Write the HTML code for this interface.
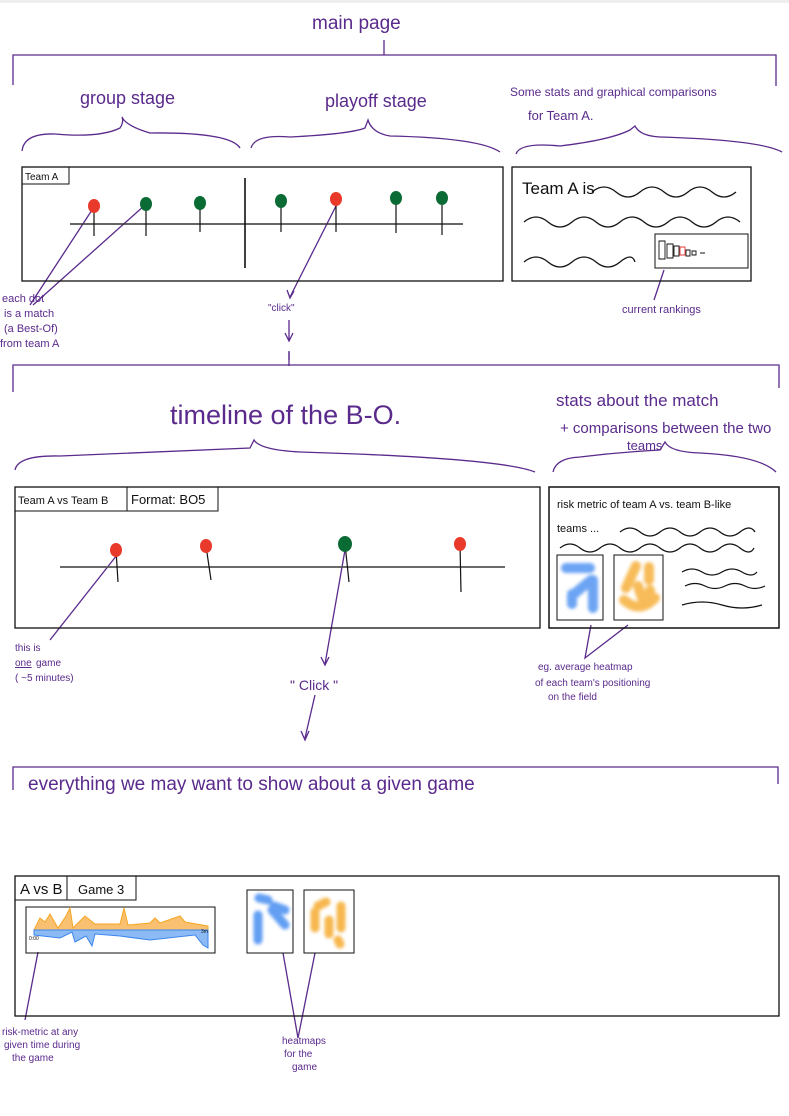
<!DOCTYPE html>
<html><head><meta charset="utf-8"><style>
html,body{margin:0;padding:0;background:#fff;}
svg{display:block;}
.p{fill:#5a2a8c;font-family:"Liberation Sans",sans-serif;}
.k{fill:#111;font-family:"Liberation Sans",sans-serif;}
</style></head><body>
<svg width="789" height="1116" viewBox="0 0 789 1116" xmlns="http://www.w3.org/2000/svg">
<defs>
<filter id="bl" x="-20%" y="-20%" width="140%" height="140%"><feGaussianBlur stdDeviation="1.5"/></filter>
</defs>
<rect width="789" height="1116" fill="#fff"/>
<rect width="789" height="3" fill="#eee"/>
<g stroke="#5a2a8c" stroke-width="1.3" fill="none">
<path d="M384 40 V55 M13 85 V55 H776 V86"/>
<path d="M22 151 Q24 133 55 134 Q100 138 120 128 Q124 122 122 117 Q126 126 150 133 Q230 132 240 148"/>
<path d="M251 148 Q255 134 290 137 Q350 134 365 128 L368 120 Q372 133 390 136 Q480 138 500 152"/>
<path d="M516 154 Q520 142 560 146 Q610 140 630 130 L635 126 Q640 136 660 137 Q760 140 782 152"/>
<path d="M30 305 L92 210 M33 305 L145 205"/>
<path d="M337 204 L290 297 M287 290 L290 298 L294 291"/>
<path d="M289 320 V340 M285 333 L289 341 L293 333 M289 351 V360"/>
<path d="M664 270 L654 300"/>
<path d="M13 392 V365 H779 V388 M289 352 V366"/>
<path d="M15 470 Q18 455 60 456 Q200 450 250 448 L254 440 Q260 450 300 452 Q500 458 535 472"/>
<path d="M553 472 Q556 458 580 457 Q620 452 660 450 L665 442 Q670 452 700 453 Q760 456 776 472"/>
<path d="M117 555 L50 640"/>
<path d="M345 550 L325 664 M321 657 L325 665 L329 657"/>
<path d="M315 695 L305 738 M301 731 L305 740 L309 731"/>
<path d="M591 625 L585 658 L628 625"/>
<path d="M13 790 V767 H778 V784"/>
<path d="M38 952 L25 1020"/>
<path d="M283 953 L298 1038 L315 953"/>
</g>
<text class="p" x="312" y="29" font-size="19">main page</text>
<text class="p" x="80" y="104" font-size="18">group stage</text>
<text class="p" x="325" y="107" font-size="18">playoff stage</text>
<text class="p" x="510" y="96" font-size="12">Some stats and graphical comparisons</text>
<text class="p" x="528" y="120" font-size="13">for Team A.</text>

<g stroke="#111" fill="none">
<rect x="22" y="167" width="481" height="114" stroke-width="1.3"/>
<path d="M22 184 H69 V167" stroke-width="1"/>
<path d="M70 224 H463" stroke="#333" stroke-width="1.6"/>
<path d="M245 178 V268" stroke-width="1.6"/>
<path d="M94 206 V236 M146 204 V236 M200 203 V232 M281 201 V232 M336 199 V232 M396 198 V233 M442 198 V235" stroke-width="1.2"/>
<rect x="512" y="167" width="239" height="114" stroke-width="1.3"/>
<rect x="655" y="234" width="93" height="34" stroke-width="1"/>
<path d="M592 192 q12 -10 24 0 t24 0 t24 0 t24 0 t24 0 t24 0" stroke-width="1.3"/>
<path d="M524 222 q12 -10 24 0 t24 0 t24 0 t24 0 t24 0 t24 0 t24 0 t24 0 t24 0" stroke-width="1.3"/>
<path d="M524 262 q12 -10 24 0 t24 0 t24 0 t24 0 t15 0" stroke-width="1.3"/>
<path d="M659 241 h6 v18 h-6z M667 244 h6 v14 h-6z M674 246 h5 v10 h-5z M686 250 h4 v6 h-4z M692 251 h4 v4 h-4z M700 253 h5" stroke-width="0.9"/>
<path d="M680 247 h5 v8 h-5z" stroke="#e33" stroke-width="0.9"/>
</g>
<text class="k" x="25" y="180" font-size="10">Team A</text>
<text class="k" x="522" y="194" font-size="17">Team A is</text>
<g>
<ellipse cx="94" cy="206" rx="6" ry="7" fill="#e8392a"/>
<ellipse cx="146" cy="204" rx="6" ry="7" fill="#0b6b35"/>
<ellipse cx="200" cy="203" rx="6" ry="7" fill="#0b6b35"/>
<ellipse cx="281" cy="201" rx="6" ry="7" fill="#0b6b35"/>
<ellipse cx="336" cy="199" rx="6" ry="7" fill="#e8392a"/>
<ellipse cx="396" cy="198" rx="6" ry="7" fill="#0b6b35"/>
<ellipse cx="442" cy="198" rx="6" ry="7" fill="#0b6b35"/>
</g>
<g class="p" font-size="11">
<text x="2" y="302">each dot</text>
<text x="4" y="317">is a match</text>
<text x="4" y="332">(a Best-Of)</text>
<text x="0" y="347">from team A</text>
<text x="268" y="311" font-size="10">"click"</text>
<text x="622" y="313">current rankings</text>
</g>
<text class="p" x="170" y="424" font-size="27">timeline of the B-O.</text>
<text class="p" x="556" y="406" font-size="17">stats about the match</text>
<text class="p" x="560" y="433" font-size="15">+ comparisons between the two</text>
<text class="p" x="627" y="450" font-size="13">teams</text>

<g stroke="#111" fill="none">
<rect x="15" y="487" width="525" height="141" stroke-width="1.3"/>
<path d="M15 511 H218 V487 M127 487 V511" stroke-width="1"/>
<path d="M60 567 H505" stroke="#555" stroke-width="1.8"/>
<path d="M116 550 L118 582 M206 546 L211 580 M345 544 L349 582 M460 544 L461 592" stroke-width="1.2"/>
<rect x="549" y="487" width="230" height="141" stroke-width="1.5"/>
<rect x="557" y="555" width="46" height="65" stroke-width="1"/>
<rect x="614" y="555" width="49" height="65" stroke-width="1"/>
<path d="M620 532 q10 -8 20 0 t20 0 t20 0 t20 0 t20 0 t20 0 t15 0" stroke-width="1.3"/>
<path d="M560 548 q10 -8 20 0 t20 0 t20 0 t20 0 t20 0 t20 0 t20 0 t20 0 t20 0 t14 0" stroke-width="1.3"/>
<path d="M682 572 q10 -6 20 0 t20 0 t20 0 t15 0 M685 586 q10 -5 20 0 t20 0 t20 0 t20 0 M682 605 q20 -6 40 0 t40 0" stroke-width="1.2"/>
</g>
<g filter="url(#bl)" opacity="0.75">
<path d="M566 568 H590 M591 580 L574 594 M593 580 V608 M572 594 V604" stroke="#3b86f0" stroke-width="10" stroke-linecap="round" fill="none"/>
<path d="M636 566 L626 588 M649 567 V580 M638 586 L642 598 M624 600 Q640 614 655 598 M650 590 V594" stroke="#f5a623" stroke-width="10" stroke-linecap="round" fill="none"/>
</g>
<text class="k" x="18" y="504" font-size="11">Team A vs Team B</text>
<text class="k" x="131" y="504" font-size="13">Format: BO5</text>
<text class="k" x="557" y="508" font-size="11">risk metric of team A vs. team B-like</text>
<text class="k" x="557" y="532" font-size="11">teams ...</text>
<ellipse cx="116" cy="550" rx="6" ry="7" fill="#e8392a"/>
<ellipse cx="206" cy="546" rx="6" ry="7" fill="#e8392a"/>
<ellipse cx="345" cy="544" rx="7" ry="8" fill="#0b6b35"/>
<ellipse cx="460" cy="544" rx="6" ry="7" fill="#e8392a"/>
<g class="p" font-size="10">
<text x="15" y="651">this is</text>
<text x="15" y="666" text-decoration="underline">one</text><text x="36" y="666">game</text>
<text x="15" y="681">( ~5 minutes)</text>
<text x="290" y="690" font-size="14">" Click "</text>
<text x="538" y="670">eg. average heatmap</text>
<text x="535" y="686">of each team's positioning</text>
<text x="548" y="700">on the field</text>
</g>
<text class="p" x="28" y="790" font-size="19">everything we may want to show about a given game</text>

<g stroke="#111" fill="none">
<rect x="15" y="876" width="764" height="140" stroke-width="1.3"/>
<path d="M15 900 H136 V876 M67 876 V900" stroke-width="1"/>
<rect x="26" y="907" width="189" height="46" stroke-width="1"/>
<rect x="247" y="890" width="46" height="63" stroke-width="1"/>
<rect x="304" y="890" width="50" height="63" stroke-width="1"/>
</g>
<path d="M34 930 L40 918 L45 922 L50 914 L58 928 L66 916 L70 908 L73 928 L85 916 L95 924 L120 924 L124 908 L128 925 L150 923 L155 918 L160 923 L180 916 L185 922 L208 926 L208 930 Z" fill="#f8c070" stroke="#f5a623" stroke-width="1"/>
<path d="M34 930 H208 L208 948 L203 945 L195 935 L150 940 L120 936 L95 934 L92 946 L86 936 L75 942 L72 932 L60 938 L34 935 Z" fill="#8cbaf5" stroke="#3b86f0" stroke-width="1"/>
<g filter="url(#bl)" opacity="0.8">
<path d="M259 898 L268 900 M274 906 L285 910 M272 910 L285 925 M258 915 V940" stroke="#3b86f0" stroke-width="9" stroke-linecap="round" fill="none"/>
<path d="M318 906 L326 902 M315 912 V928 M341 906 V928 M329 920 V934 M338 940 L340 944" stroke="#f5a623" stroke-width="9" stroke-linecap="round" fill="none"/>
</g>
<text class="k" x="20" y="894" font-size="15">A vs B</text>
<text class="k" x="78" y="894" font-size="13">Game 3</text>
<text class="k" x="29" y="940" font-size="5">0:00</text>
<text class="k" x="201" y="933" font-size="5">3m</text>
<g class="p" font-size="10">
<text x="2" y="1035">risk-metric at any</text>
<text x="4" y="1048">given time during</text>
<text x="12" y="1061">the game</text>
<text x="282" y="1044">heatmaps</text>
<text x="284" y="1057">for the</text>
<text x="292" y="1070">game</text>
</g>
</svg>
</body></html>
